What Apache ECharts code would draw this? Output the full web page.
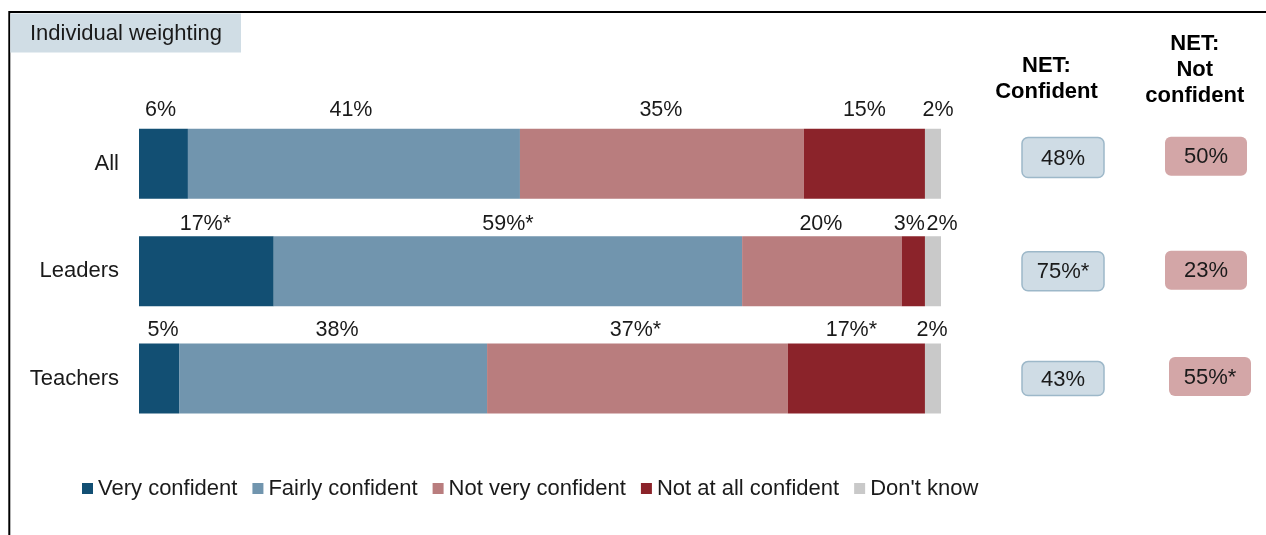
<!DOCTYPE html>
<html>
<head>
<meta charset="utf-8">
<script src="https://cdn.jsdelivr.net/npm/echarts@6/dist/echarts.min.js"></script>
<style>
html,body{margin:0;padding:0;background:#fff;}
#chart{width:1266px;height:535px;}
</style>
</head>
<body>
<div id="chart"></div>
<script>
// ---- data ----
const categories = ['All', 'Leaders', 'Teachers'];
const seriesNames = ['Very confident', 'Fairly confident', 'Not very confident', 'Not at all confident', "Don't know"];
const veryConfident = [6.1, 16.8, 5.0];
const fairlyConfident = [41.4, 58.4, 38.4];
const notVeryConfident = [35.4, 19.9, 37.5];
const notAtAllConfident = [15.1, 2.9, 17.1];
const dontKnow = [2.0, 2.0, 2.0];
const veryLabels = ['6%', '17%*', '5%'];
const fairlyLabels = ['41%', '59%*', '38%'];
const notVeryLabels = ['35%', '20%', '37%*'];
const notAtAllLabels = ['15%', '3%', '17%*'];
const dontKnowLabels = ['2%', '2%', '2%'];
const netColumns = ['NET: Confident', 'NET: Not confident'];
const netHeaderText = ['NET:\nConfident', 'NET:\nNot\nconfident'];
const netConfident = ['48%', '75%*', '43%'];
const netNotConfident = ['50%', '23%', '55%*'];
const panelTitle = 'Individual weighting';

// ---- styling ----
const FONT = "'Liberation Sans', Arial, Helvetica, sans-serif";
const colors = ['#124f73', '#7195ae', '#b97d7e', '#8b232a', '#c9c9c9'];
const valueSets = [veryConfident, fairlyConfident, notVeryConfident, notAtAllConfident, dontKnow];
const labelSets = [veryLabels, fairlyLabels, notVeryLabels, notAtAllLabels, dontKnowLabels];
const rowLabelDistance = [8, 1, 3];
// small horizontal nudges of some value labels [series][row]
const labelNudgeX = [
  [-3, -1, 4],
  [-3, 0, 4],
  [-1, -1, -2],
  [0, -4, -5],
  [5, 9, -1]
];
// NET box tweaks [column][row] = [dx, dy, height]
const boxTweak = [
  [[0, -6.3, 40], [0, 0, 39], [0, 0, 34]],
  [[0, -7.5, 39], [0, -1, 39], [4, -2, 39]]
];
const boxStyle = [
  { fill: '#cfdce5', stroke: '#9db8c9', lineWidth: 1.5 },
  { fill: '#d3a6a7', stroke: '#d3a6a7', lineWidth: 0 }
];
const netTexts = [netConfident, netNotConfident];

const chart = echarts.init(document.getElementById('chart'), null, { renderer: 'canvas' });

const GRID_TOP = 110.1, GRID_H = 322.2;

const barSeries = seriesNames.map((name, s) => ({
  name: name,
  type: 'bar',
  stack: 'total',
  xAxisIndex: 0,
  yAxisIndex: 0,
  barWidth: 70,
  itemStyle: { color: colors[s] },
  label: {
    show: true,
    position: 'top',
    fontFamily: FONT,
    fontSize: 21.5,
    color: '#1a1a1a',
    formatter: p => labelSets[s][p.dataIndex]
  },
  data: valueSets[s].map((v, i) => ({
    value: v,
    label: { distance: rowLabelDistance[i], offset: [labelNudgeX[s][i], 0] }
  }))
}));

const netSeries = netColumns.map((col, c) => ({
  name: col,
  type: 'custom',
  xAxisIndex: 1,
  yAxisIndex: 1,
  silent: true,
  data: categories.map(cat => [col, cat]),
  renderItem: (params, api) => {
    const row = params.dataIndex;
    const p = api.coord([api.value(0), api.value(1)]);
    const t = boxTweak[c][row];
    const w = 82, h = t[2];
    const cx = p[0] + t[0], cy = p[1] + t[1];
    return {
      type: 'group',
      children: [
        {
          type: 'rect',
          shape: { x: cx - w / 2, y: cy - h / 2, width: w, height: h, r: 6 },
          style: boxStyle[c]
        },
        {
          type: 'text',
          style: {
            text: netTexts[c][row],
            x: cx, y: cy + 1,
            align: 'center', verticalAlign: 'middle',
            fontFamily: FONT, fontSize: 22, fill: '#1a1a1a'
          }
        }
      ]
    };
  }
}));

chart.setOption({
  animation: false,
  backgroundColor: '#ffffff',
  textStyle: { fontFamily: FONT },
  grid: [
    { left: 139, width: 802, top: GRID_TOP, height: GRID_H, containLabel: false },
    { left: 1063, width: 143, top: GRID_TOP, height: GRID_H, containLabel: false }
  ],
  xAxis: [
    { type: 'value', gridIndex: 0, min: 0, max: 100, show: false },
    { type: 'category', gridIndex: 1, data: netColumns, boundaryGap: false, show: false }
  ],
  yAxis: [
    {
      type: 'category', gridIndex: 0, data: categories, inverse: true,
      axisLine: { show: false }, axisTick: { show: false }, splitLine: { show: false },
      axisLabel: { fontFamily: FONT, fontSize: 22, color: '#1a1a1a', margin: 20 }
    },
    { type: 'category', gridIndex: 1, data: categories, inverse: true, show: false }
  ],
  legend: {
    data: seriesNames,
    left: 82,
    top: 477.5,
    padding: 0,
    icon: 'rect',
    itemWidth: 11,
    itemHeight: 11,
    itemGap: 15,
    textStyle: { fontFamily: FONT, fontSize: 22, color: '#1a1a1a', lineHeight: 22 }
  },
  graphic: [
    {
      type: 'polyline',
      shape: { points: [[9.3, 540], [9.3, 12], [1270, 12]] },
      style: { stroke: '#000', lineWidth: 2, fill: null },
      silent: true
    },
    {
      type: 'rect',
      shape: { x: 10.3, y: 13.5, width: 230.7, height: 39 },
      style: { fill: '#d0dde5' },
      silent: true
    },
    {
      type: 'text',
      style: {
        text: panelTitle, x: 30, y: 34, verticalAlign: 'middle',
        fontFamily: FONT, fontSize: 22, fill: '#1a1a1a'
      },
      silent: true
    },
    {
      type: 'text',
      style: {
        text: netHeaderText[0], x: 1046.5, y: 79, align: 'center', verticalAlign: 'middle',
        fontFamily: FONT, fontSize: 22, fontWeight: 'bold', lineHeight: 25.5, fill: '#000'
      },
      silent: true
    },
    {
      type: 'text',
      style: {
        text: netHeaderText[1], x: 1194.8, y: 69.8, align: 'center', verticalAlign: 'middle',
        fontFamily: FONT, fontSize: 22, fontWeight: 'bold', lineHeight: 25.7, fill: '#000'
      },
      silent: true
    }
  ],
  series: barSeries.concat(netSeries)
});
</script>
</body>
</html>
